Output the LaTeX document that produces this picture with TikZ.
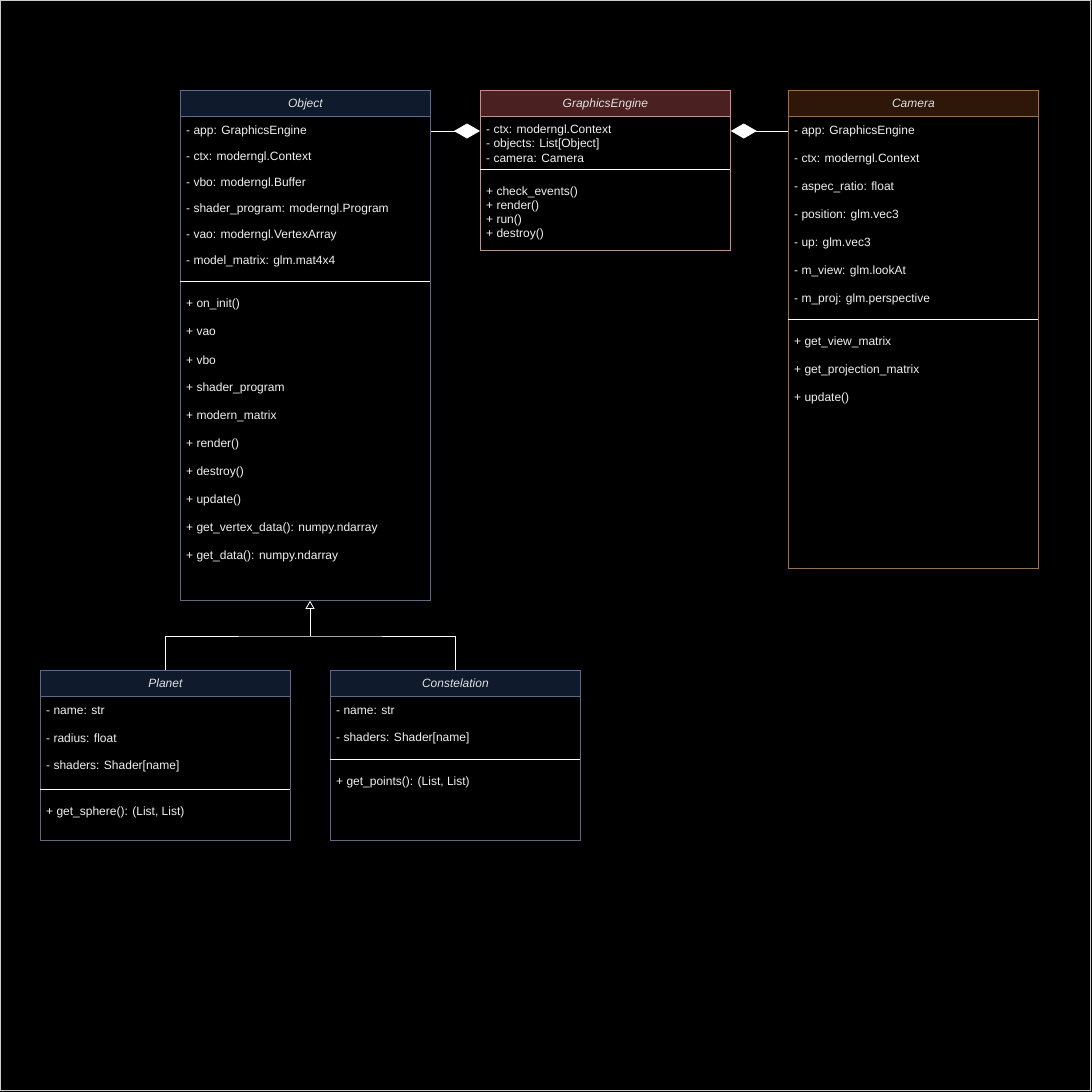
\documentclass[tikz,border=0pt]{standalone}
\usepackage{fontspec}
\setmainfont{Liberation Sans}
\usetikzlibrary{arrows.meta}

\definecolor{objfill}{HTML}{0F1B2D}
\definecolor{objline}{HTML}{5A6B8C}
\definecolor{engfill}{HTML}{4A2020}
\definecolor{engline}{HTML}{D08A88}
\definecolor{camfill}{HTML}{2E1708}
\definecolor{camline}{HTML}{A8702F}

\begin{document}
\begin{tikzpicture}[x=1pt, y=-1pt, font=\fontsize{12}{14}\selectfont]

\tikzset{
  ClassBox/.style  = {draw=#1, line width=0.8pt, anchor=north west, minimum width=250pt, inner sep=0pt},
  ClassHead/.style = {ClassBox=#1, minimum height=26pt, text height=9pt, text depth=1pt,
                      text=white!88!black, font=\fontsize{12}{14}\selectfont\itshape},
  Member/.style    = {anchor=west, inner sep=0pt, text=white!94!black},
  Sep/.style       = {draw=white, line width=0.8pt},
  Comp/.style      = {draw=white, line width=0.8pt, -{Diamond[length=26pt, width=15pt, fill=white]}},
  Inherit/.style   = {draw=white, line width=0.8pt, -{Triangle[open, length=8pt, width=9pt]}}
}

\useasboundingbox (0,0) rectangle (1092,1092);
\fill[black] (0,0) rectangle (1092,1092);
\draw[white!80!black, line width=1pt] (0.5,0.5) rectangle (1090.5,1090.5);

% Object
\node[ClassBox=objline, minimum height=510pt] (object) at (180,90) {};
\node[ClassHead=objline, fill=objfill] (objhead) at (180,90) {Object};
\foreach \t [count=\i] in {- app: GraphicsEngine, - ctx: moderngl.Context, - vbo: moderngl.Buffer,
    - shader\_program: moderngl.Program, - vao: moderngl.VertexArray, - model\_matrix: glm.mat4x4}
  \node[Member] (obj-a\i) at (186,{131+26*(\i-1)}) {\t};
\draw[Sep] (180,281) -- (430,281);
\foreach \t [count=\i] in {+ on\_init(), + vao, + vbo, + shader\_program, + modern\_matrix, + render(),
    + destroy(), + update(), + get\_vertex\_data(): numpy.ndarray, + get\_data(): numpy.ndarray}
  \node[Member] (obj-m\i) at (186,{304.5+28*(\i-1)}) {\t};

% GraphicsEngine
\node[ClassBox=engline, minimum height=160pt] (engine) at (480,90) {};
\node[ClassHead=engline, fill=engfill] (enghead) at (480,90) {GraphicsEngine};
\foreach \t [count=\i] in {- ctx: moderngl.Context, - objects: List[Object], - camera: Camera}
  \node[Member] (eng-a\i) at (486,{130.5+14*(\i-1)}) {\t};
\draw[Sep] (480,169.5) -- (730,169.5);
\foreach \t [count=\i] in {+ check\_events(), + render(), + run(), + destroy()}
  \node[Member] (eng-m\i) at (486,{192.5+14*(\i-1)}) {\t};

% Camera
\node[ClassBox=camline, minimum height=478pt] (camera) at (788,90) {};
\node[ClassHead=camline, fill=camfill] (camhead) at (788,90) {Camera};
\foreach \t [count=\i] in {- app: GraphicsEngine, - ctx: moderngl.Context, - aspec\_ratio: float,
    - position: glm.vec3, - up: glm.vec3, - m\_view: glm.lookAt, - m\_proj: glm.perspective}
  \node[Member] (cam-a\i) at (794,{131+28*(\i-1)}) {\t};
\draw[Sep] (788,319.5) -- (1038,319.5);
\foreach \t [count=\i] in {+ get\_view\_matrix, + get\_projection\_matrix, + update()}
  \node[Member] (cam-m\i) at (794,{342.5+28*(\i-1)}) {\t};

% Planet
\node[ClassBox=objline, minimum height=170pt] (planet) at (40,670) {};
\node[ClassHead=objline, fill=objfill] (planethead) at (40,670) {Planet};
\foreach \t [count=\i] in {- name: str, - radius: float, - shaders: Shader[name]}
  \node[Member] (pl-a\i) at (46,{711+27.5*(\i-1)}) {\t};
\draw[Sep] (40,789.5) -- (290,789.5);
\node[Member] (pl-m1) at (46,812.5) {+ get\_sphere(): (List, List)};

% Constelation
\node[ClassBox=objline, minimum height=170pt] (constel) at (330,670) {};
\node[ClassHead=objline, fill=objfill] (constelhead) at (330,670) {Constelation};
\foreach \t [count=\i] in {- name: str, - shaders: Shader[name]}
  \node[Member] (co-a\i) at (336,{711+27.5*(\i-1)}) {\t};
\draw[Sep] (330,759.5) -- (580,759.5);
\node[Member] (co-m1) at (336,782.5) {+ get\_points(): (List, List)};

% connectors
\draw[Comp] (obj-a1 -| object.east) -- (engine.west |- obj-a1);
\draw[Comp] (cam-a1 -| camera.west) -- (engine.east |- cam-a1);

\coordinate (joint) at (310,636);
\draw[Sep] (planethead.north) |- (joint) -| (constelhead.north);
\draw[Inherit] (joint) -- (object.south -| joint);

\end{tikzpicture}
\end{document}
